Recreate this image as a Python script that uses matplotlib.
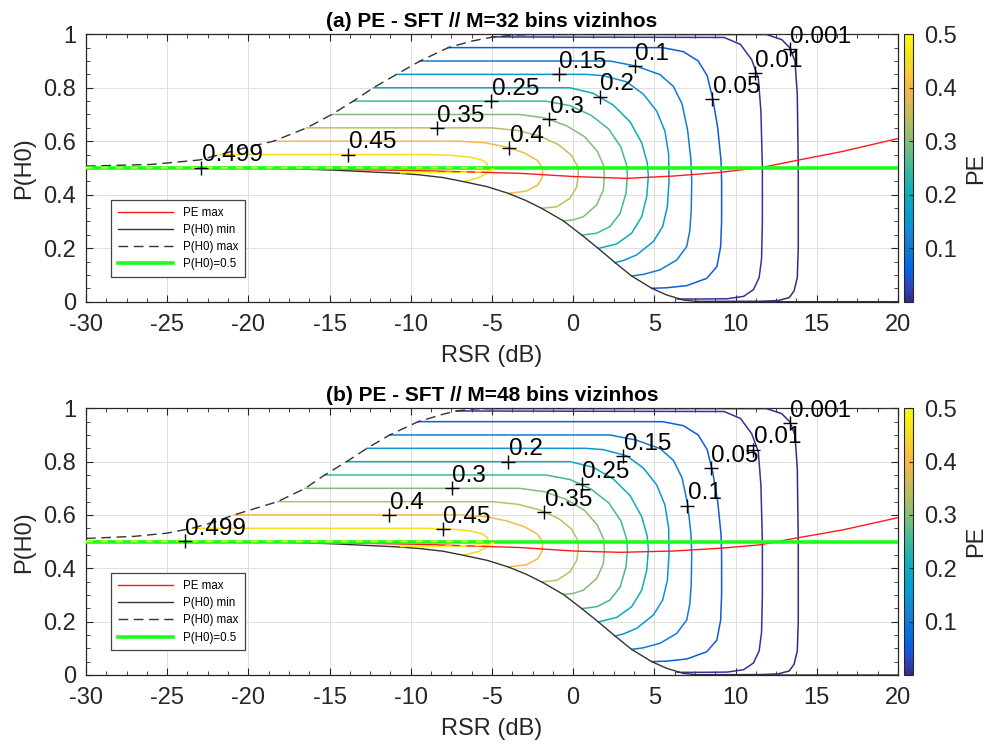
import matplotlib
matplotlib.use('Agg')
import matplotlib.pyplot as plt
from matplotlib.colors import LinearSegmentedColormap, Normalize
from matplotlib.cm import ScalarMappable
from matplotlib.ticker import MultipleLocator

plt.rcParams['font.family'] = ['Liberation Sans', 'DejaVu Sans']
plt.rcParams['axes.unicode_minus'] = False

# PE contour levels
LEVELS = [0.001, 0.01, 0.05, 0.1, 0.15, 0.2, 0.25, 0.3, 0.35, 0.4, 0.45, 0.499]

# contour bodies (RSR dB, P(H0)): from the flat top down to the P(H0) min curve
PE_0001 = [(11.9, 0.999), (12.84, 0.98), (13.35, 0.949), (13.66, 0.899), (13.8, 0.774),
           (13.86, 0.5), (13.86, 0.2), (13.8, 0.09), (13.6, 0.04), (13.3, 0.015),
           (12.6, 0.004), (11.5, 0.0015), (7.6, 0.001)]
PE_001 = [(9.3, 0.988), (10.3, 0.962), (10.99, 0.905), (11.4, 0.837), (11.56, 0.712),
          (11.65, 0.5), (11.65, 0.3), (11.6, 0.16), (11.45, 0.09), (11.1, 0.045),
          (10.5, 0.02), (9.5, 0.011), (8.0, 0.01), (6.4, 0.01)]
PE_005 = [(5.5, 0.95), (6.78, 0.935), (7.7, 0.9), (8.25, 0.845), (8.6, 0.758), (8.9, 0.65),
          (9.1, 0.53), (9.14, 0.45), (9.14, 0.3), (9.08, 0.206), (8.85, 0.131),
          (8.22, 0.087), (6.99, 0.06), (5.76, 0.052), (4.84, 0.05)]
PE_01 = [(2.27, 0.9), (3.87, 0.881), (5.35, 0.849), (6.17, 0.805), (6.7, 0.74), (7.05, 0.64),
         (7.25, 0.53), (7.3, 0.45), (7.27, 0.34), (7.18, 0.265), (6.99, 0.206),
         (6.38, 0.156), (5.35, 0.119), (4.32, 0.102), (3.6, 0.096)]
PE_015 = [(0.8, 0.85), (1.86, 0.845), (3.29, 0.822), (4.32, 0.776), (5.14, 0.713),
          (5.65, 0.638), (5.88, 0.55), (5.9, 0.45), (5.8, 0.355), (5.51, 0.281),
          (4.94, 0.225), (3.91, 0.175), (3.09, 0.154), (2.58, 0.146)]
PE_02 = [(-0.2, 0.8), (1.24, 0.779), (2.47, 0.735), (3.5, 0.673), (4.22, 0.594),
         (4.56, 0.52), (4.63, 0.47), (4.53, 0.393), (4.22, 0.318), (3.6, 0.256),
         (2.68, 0.216), (1.55, 0.199)]
PE_025 = [(-1.7, 0.75), (-0.19, 0.733), (1.1, 0.697), (2.18, 0.646), (2.94, 0.578),
          (3.29, 0.51), (3.34, 0.47), (3.25, 0.405), (2.89, 0.33), (2.27, 0.281),
          (1.45, 0.256), (0.53, 0.249)]
PE_03 = [(-3.3, 0.7), (-1.74, 0.687), (-0.41, 0.658), (0.7, 0.617), (1.48, 0.563),
         (1.87, 0.51), (1.92, 0.47), (1.86, 0.418), (1.45, 0.362), (0.63, 0.318),
         (0.01, 0.306), (-0.6, 0.302)]
PE_035 = [(-5.0, 0.65), (-3.4, 0.64), (-2.05, 0.619), (-0.9, 0.587), (-0.1, 0.547),
          (0.28, 0.505), (0.32, 0.478), (0.22, 0.43), (-0.19, 0.387), (-1.01, 0.355),
          (-1.94, 0.349)]
PE_04 = [(-7.0, 0.6), (-5.4, 0.594), (-4.1, 0.578), (-3.0, 0.556), (-2.2, 0.528),
         (-1.88, 0.5), (-1.9, 0.465), (-2.2, 0.435), (-2.9, 0.413), (-3.99, 0.405)]
PE_045 = [(-9.0, 0.55), (-7.5, 0.547), (-6.3, 0.54), (-5.6, 0.529), (-5.3, 0.516),
          (-5.22, 0.497), (-5.35, 0.478), (-5.9, 0.462), (-6.76, 0.449)]
PE_0499 = [(-7.0, 0.501), (-5.3, 0.5), (-4.9, 0.494), (-5.3, 0.487), (-7.0, 0.484),
           (-11.0, 0.482)]
BODIES = [PE_0001, PE_001, PE_005, PE_01, PE_015, PE_02, PE_025, PE_03, PE_035,
          PE_04, PE_045, PE_0499]

# RSR where each contour leaves the P(H0) max curve
A_TOP_START = [-4.2, -5.0, -7.69, -9.43, -10.87, -12.3, -13.54, -14.87, -16.41, -18.46, -21.75, -30]
B_TOP_START = [-5.5, -7.2, -9.54, -11.3, -12.7, -13.95, -15.3, -16.5, -18.2, -20.9, -23.5, -30]

# P(H0) min
MIN_X = [-30, -18, -14.8, -10.7, -9.43, -8.0, -6.76, -5.3, -3.99, -2.9, -1.94, -0.6, 0.53,
         1.55, 2.58, 3.6, 4.84, 5.76, 6.79, 7.81, 20]
MIN_Y = [0.5, 0.498, 0.492, 0.48, 0.474, 0.464, 0.449, 0.43, 0.405, 0.378, 0.349, 0.302,
         0.249, 0.199, 0.146, 0.096, 0.05, 0.025, 0.006, 0.0, 0.0]

# P(H0) max
A_DASH_X = [-30, -26, -23, -21.75, -20.3, -18.46, -16.41, -14.87, -13.54, -12.3, -10.87,
            -9.43, -7.69, -6.2, -4.9, -3.5, -2.0, 20]
A_DASH_Y = [0.507, 0.513, 0.53, 0.55, 0.574, 0.6, 0.65, 0.7, 0.75, 0.8, 0.85, 0.9, 0.95,
            0.975, 0.99, 0.997, 1.0, 1.0]
B_DASH_X = [-30, -27, -25, -23.5, -22.2, -20.9, -18.2, -16.5, -15.3, -13.95, -12.7, -11.3,
            -9.54, -8.0, -7.2, -6.0, -4.5, 20]
B_DASH_Y = [0.512, 0.52, 0.532, 0.55, 0.572, 0.6, 0.65, 0.7, 0.75, 0.8, 0.85, 0.9, 0.95,
            0.978, 0.99, 0.998, 1.0, 1.0]

# PE max
A_RED_X = [-30, -20, -15, -9.4, -3.3, 0.0, 3.3, 6.2, 9.0, 11.7, 14.0, 16.6, 20]
A_RED_Y = [0.5, 0.499, 0.495, 0.49, 0.48, 0.468, 0.461, 0.47, 0.483, 0.503, 0.531, 0.562, 0.61]
B_RED_X = [-30, -20, -15, -9.4, -3.3, 0.0, 2.9, 6.2, 9.0, 11.5, 13.6, 16.6, 20]
B_RED_Y = [0.5, 0.499, 0.496, 0.49, 0.478, 0.465, 0.46, 0.465, 0.475, 0.488, 0.512, 0.544, 0.59]

# contour label positions
A_LAB_LEV = [0.499, 0.45, 0.35, 0.4, 0.25, 0.3, 0.15, 0.2, 0.1, 0.05, 0.01, 0.001]
A_LAB_X = [-22.9, -13.85, -8.4, -3.93, -5.03, -1.47, -0.9, 1.65, 3.8, 8.56, 11.2, 13.35]
A_LAB_Y = [0.501, 0.55, 0.65, 0.574, 0.75, 0.683, 0.85, 0.767, 0.881, 0.756, 0.856, 0.945]
B_LAB_LEV = [0.499, 0.4, 0.45, 0.3, 0.2, 0.35, 0.25, 0.15, 0.1, 0.05, 0.01, 0.001]
B_LAB_X = [-23.9, -11.33, -8.04, -7.48, -4.0, -1.78, 0.52, 3.08, 7.02, 8.48, 11.09, 13.35]
B_LAB_Y = [0.501, 0.6, 0.548, 0.7, 0.8, 0.612, 0.715, 0.822, 0.635, 0.775, 0.845, 0.945]

PARULA = [(0.2081, 0.1663, 0.5292), (0.1707, 0.2919, 0.7792), (0.0117, 0.3875, 0.8820),
          (0.0329, 0.4430, 0.8720), (0.0793, 0.5200, 0.8312), (0.0265, 0.6137, 0.8135),
          (0.0384, 0.6743, 0.7436), (0.1801, 0.7177, 0.6424), (0.3953, 0.7459, 0.5244),
          (0.6099, 0.7473, 0.4337), (0.7858, 0.7356, 0.3633), (0.9450, 0.7261, 0.2886),
          (0.9990, 0.7653, 0.2164), (0.9626, 0.8705, 0.1309), (0.9763, 0.9831, 0.0538)]
PARULA_POS = [0, 4, 7, 10, 15, 20, 25, 30, 35, 40, 45, 50, 53, 57, 63]
parula = LinearSegmentedColormap.from_list(
    'parula', [(p / 63, c) for p, c in zip(PARULA_POS, PARULA)])
norm = Normalize(0.0, 0.5)

TXT = '#262626'


def draw_panel(ax, cax, title, top_start, dash_x, dash_y, red_x, red_y,
               lab_lev, lab_x, lab_y):
    ax.grid(True, color='#dedede', lw=0.7, zorder=0)
    ax.set_axisbelow(True)

    for lev, x0, body in zip(LEVELS, top_start, BODIES):
        xs = [x0] + [p[0] for p in body]
        ys = [1 - lev] + [p[1] for p in body]
        ax.plot(xs, ys, color=parula(norm(lev)), lw=1.1, zorder=2,
                solid_joinstyle='round')
        if lev == 0.499:
            ax.plot(xs, ys, color=parula(norm(lev)), lw=1.2, ls=(0, (4, 5)), zorder=5)

    h_red, = ax.plot(red_x, red_y, color='#ff1a1a', lw=1.0, zorder=3)
    h_min, = ax.plot(MIN_X, MIN_Y, color='#333333', lw=1.0, zorder=3)
    h_max, = ax.plot(dash_x, dash_y, color='#333333', lw=1.0, ls=(0, (7, 4)), zorder=3)
    h_half = ax.axhline(0.5, color='#1aff1a', lw=2.6, zorder=4)

    ax.plot(lab_x, lab_y, '+', color='k', ms=10, mew=1.0, zorder=6)
    for lev, x, y in zip(lab_lev, lab_x, lab_y):
        ax.annotate(f'{lev:g}', (x, y), xytext=(0.3, 4.5), textcoords='offset points',
                    fontsize=17.5, ha='left', va='baseline', zorder=7)

    ax.set_xlim(-30, 20)
    ax.set_ylim(0, 1)
    ax.set_xticks(range(-30, 21, 5))
    ax.set_yticks([0, 0.2, 0.4, 0.6, 0.8, 1])
    ax.set_yticklabels(['0', '0.2', '0.4', '0.6', '0.8', '1'])
    ax.xaxis.set_minor_locator(MultipleLocator(1.25))
    ax.yaxis.set_minor_locator(MultipleLocator(0.05))
    ax.tick_params(which='both', direction='in', top=True, right=True,
                   color=TXT, labelcolor=TXT, labelsize=17)
    ax.tick_params(which='major', length=5, width=0.8)
    ax.tick_params(which='minor', length=3, width=0.6)
    ax.tick_params(axis='x', pad=9)
    ax.tick_params(axis='y', pad=7)
    for s in ax.spines.values():
        s.set_color(TXT)
        s.set_linewidth(0.9)

    ax.set_xlabel('RSR (dB)', fontsize=17, color=TXT, labelpad=6)
    ax.set_ylabel('P(H0)', fontsize=17, color=TXT, labelpad=6)
    ax.set_title(title, fontsize=15, fontweight='bold', pad=5)

    leg = ax.legend([h_red, h_min, h_max, h_half],
                    ['PE max', 'P(H0) min', 'P(H0) max', 'P(H0)=0.5'],
                    loc='lower left', bbox_to_anchor=(0.031, 0.092), borderaxespad=0,
                    fontsize=8.3, handlelength=4.8, handletextpad=0.8, labelspacing=0.45,
                    borderpad=0.6, fancybox=False, framealpha=1, edgecolor='#444444')
    leg.get_frame().set_linewidth(0.9)
    leg.set_zorder(8)

    cb = plt.colorbar(ScalarMappable(norm=norm, cmap=parula), cax=cax,
                      ticks=[0.1, 0.2, 0.3, 0.4, 0.5])
    cb.ax.set_yticklabels(['0.1', '0.2', '0.3', '0.4', '0.5'])
    cb.ax.tick_params(direction='in', length=3, width=0.8, color=TXT,
                      labelcolor=TXT, labelsize=17, pad=8)
    cb.outline.set_edgecolor(TXT)
    cb.outline.set_linewidth(0.8)
    cb.set_label('PE', fontsize=17, color=TXT, labelpad=6)


fig = plt.figure(figsize=(9.94, 7.51), dpi=100)
ax_a = fig.add_axes([0.0865, 0.5983, 0.8169, 0.3561])
cax_a = fig.add_axes([0.9095, 0.5983, 0.0094, 0.3561])
ax_b = fig.add_axes([0.0865, 0.1012, 0.8169, 0.3551])
cax_b = fig.add_axes([0.9095, 0.1012, 0.0094, 0.3551])

draw_panel(ax_a, cax_a, '(a) PE - SFT // M=32 bins vizinhos', A_TOP_START,
           A_DASH_X, A_DASH_Y, A_RED_X, A_RED_Y, A_LAB_LEV, A_LAB_X, A_LAB_Y)
draw_panel(ax_b, cax_b, '(b) PE - SFT // M=48 bins vizinhos', B_TOP_START,
           B_DASH_X, B_DASH_Y, B_RED_X, B_RED_Y, B_LAB_LEV, B_LAB_X, B_LAB_Y)

fig.savefig('out.png', dpi=100, facecolor='white')
